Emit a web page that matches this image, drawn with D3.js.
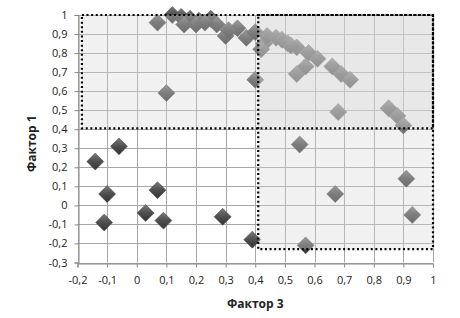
<!DOCTYPE html>
<html>
<head>
<meta charset="utf-8">
<script src="https://cdn.jsdelivr.net/npm/d3@7"></script>
<style>
  body { margin: 0; background: #fff; }
  text { font-family: "Open Sans", "DejaVu Sans", sans-serif; }
</style>
</head>
<body>
<svg width="460" height="318"></svg>
<script>
// Фактор 3 (x) и Фактор 1 (y)
const factor3 = [-0.14, -0.06, -0.10, -0.11, 0.07, 0.03, 0.09, 0.29, 0.39,
  0.55, 0.91, 0.67, 0.93, 0.57,
  0.10, 0.07, 0.12, 0.15, 0.18, 0.16, 0.21, 0.25, 0.27, 0.30, 0.34, 0.37, 0.40,
  0.43, 0.44, 0.47, 0.49, 0.54, 0.58, 0.61, 0.54, 0.57, 0.66, 0.69, 0.72, 0.40,
  0.42, 0.68, 0.85, 0.88, 0.90, 0.20, 0.23, 0.51, 0.52, 0.31];
const factor1 = [0.23, 0.31, 0.06, -0.09, 0.08, -0.04, -0.08, -0.06, -0.18,
  0.32, 0.14, 0.06, -0.05, -0.21,
  0.59, 0.96, 1.00, 0.99, 0.98, 0.95, 0.97, 0.98, 0.95, 0.89, 0.93, 0.88, 0.91,
  0.85, 0.89, 0.88, 0.87, 0.83, 0.80, 0.77, 0.69, 0.73, 0.73, 0.69, 0.66, 0.66,
  0.82, 0.49, 0.51, 0.47, 0.42, 0.95, 0.96, 0.85, 0.84, 0.92];

const xTicks = [-0.2, -0.1, 0, 0.1, 0.2, 0.3, 0.4, 0.5, 0.6, 0.7, 0.8, 0.9, 1];
const yTicks = [-0.3, -0.2, -0.1, 0, 0.1, 0.2, 0.3, 0.4, 0.5, 0.6, 0.7, 0.8, 0.9, 1];

// выделенные области [x0, x1, y0, y1]
const zones = [[-0.185, 1, 0.405, 1], [0.41, 1, -0.23, 1]];

const svg = d3.select('svg');
const x = d3.scaleLinear().domain([-0.2, 1]).range([77.5, 433]);
const y = d3.scaleLinear().domain([-0.3, 1]).range([262.5, 15]);
const fmt = d => String(+d.toFixed(1)).replace('.', ',');

// сетка
svg.append('g').selectAll('line').data(xTicks).join('line')
  .attr('x1', d => Math.round(x(d)) + 0.5).attr('x2', d => Math.round(x(d)) + 0.5)
  .attr('y1', y(1)).attr('y2', y(-0.3))
  .attr('stroke', '#a6a6a6');
svg.append('g').selectAll('line').data(yTicks).join('line')
  .attr('y1', d => Math.round(y(d)) + 0.5).attr('y2', d => Math.round(y(d)) + 0.5)
  .attr('x1', x(-0.2)).attr('x2', x(1))
  .attr('stroke', '#a6a6a6');

// оси
svg.append('g')
  .attr('transform', `translate(0,${Math.round(y(-0.3)) + 0.5})`)
  .call(d3.axisBottom(x).tickValues(xTicks).tickFormat(fmt).tickSize(4).tickPadding(9))
  .call(g => g.select('.domain').attr('stroke', '#888'))
  .call(g => g.selectAll('.tick line').attr('stroke', '#888'))
  .call(g => g.selectAll('text').attr('font-size', 11).attr('fill', '#222')
    .attr('font-family', '"Open Sans", sans-serif'));
svg.append('g')
  .attr('transform', `translate(${Math.round(x(-0.2)) + 0.5},0)`)
  .call(d3.axisLeft(y).tickValues(yTicks).tickFormat(fmt).tickSize(4).tickPadding(7))
  .call(g => g.select('.domain').attr('stroke', '#888'))
  .call(g => g.selectAll('.tick line').attr('stroke', '#888'))
  .call(g => g.selectAll('text').attr('font-size', 11).attr('fill', '#222')
    .attr('font-family', '"Open Sans", sans-serif'));

// градиент ромбов
const grad = svg.append('defs').append('linearGradient')
  .attr('id', 'dia').attr('x1', 0).attr('y1', 0).attr('x2', 1).attr('y2', 1);
grad.append('stop').attr('offset', 0).attr('stop-color', '#7a7a7a');
grad.append('stop').attr('offset', 0.5).attr('stop-color', '#4e4e4e');
grad.append('stop').attr('offset', 1).attr('stop-color', '#333');

const diamond = d3.symbol(d3.symbolSquare, 144);
svg.append('g').selectAll('path').data(factor3).join('path')
  .attr('d', diamond)
  .attr('transform', (d, i) => `translate(${x(d)},${y(factor1[i])}) rotate(45)`)
  .attr('fill', 'url(#dia)')
  .attr('stroke', '#444').attr('stroke-width', 0.5);

// полупрозрачные области поверх точек
svg.append('g').selectAll('rect').data(zones).join('rect')
  .attr('x', d => x(d[0])).attr('y', d => y(d[3]))
  .attr('width', d => x(d[1]) - x(d[0])).attr('height', d => y(d[2]) - y(d[3]))
  .attr('fill', '#d8d8d8').attr('fill-opacity', 0.35);
svg.append('g').selectAll('rect').data(zones).join('rect')
  .attr('x', d => x(d[0])).attr('y', d => y(d[3]))
  .attr('width', d => x(d[1]) - x(d[0])).attr('height', d => y(d[2]) - y(d[3]))
  .attr('fill', 'none').attr('stroke', '#000').attr('stroke-width', 2.2)
  .attr('stroke-dasharray', '2,2.6');

// подписи осей
svg.append('text')
  .attr('x', (x(-0.2) + x(1)) / 2).attr('y', 308)
  .attr('text-anchor', 'middle').attr('font-size', 12).attr('font-weight', 'bold')
  .attr('fill', '#222').text('Фактор 3');
svg.append('text')
  .attr('transform', `translate(36,${(y(-0.3) + y(1)) / 2 + 5}) rotate(-90)`)
  .attr('text-anchor', 'middle').attr('font-size', 12).attr('font-weight', 'bold')
  .attr('fill', '#222').text('Фактор 1');
</script>
</body>
</html>
